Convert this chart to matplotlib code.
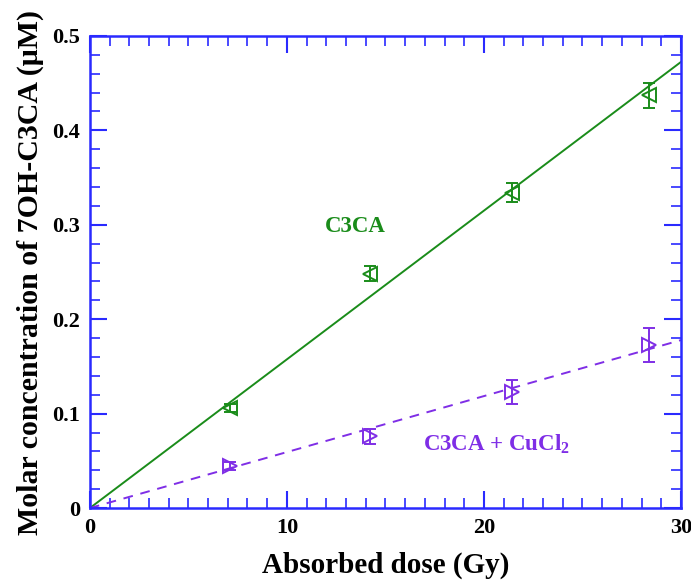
import numpy as np
import matplotlib.pyplot as plt
from matplotlib.ticker import MultipleLocator

plt.rcParams['font.family'] = ['Liberation Serif', 'DejaVu Serif']
plt.rcParams['font.weight'] = 'bold'
plt.rcParams['mathtext.fontset'] = 'custom'
plt.rcParams['mathtext.rm'] = 'Liberation Serif:bold'
plt.rcParams['mathtext.bf'] = 'Liberation Serif:bold'

# dose points (Gy)
dose = [7.1, 14.2, 21.4, 28.4]

# C3CA alone
c3ca = [0.106, 0.248, 0.334, 0.437]
c3ca_err = [0.004, 0.008, 0.010, 0.013]
c3ca_slope = 0.01575

# C3CA + CuCl2
cucl = [0.0445, 0.076, 0.123, 0.173]
cucl_err = [0.004, 0.008, 0.013, 0.018]
cucl_slope = 0.00593

green = '#1a8c1a'
purple = '#7f2ee6'
blue = '#2a2aff'

fig = plt.figure(figsize=(6.91, 5.8), dpi=100)
ax = fig.add_axes([0.130, 0.124, 0.8555, 0.814])

xfit = np.array([0, 30])
ax.plot(xfit, c3ca_slope * xfit, color=green, lw=1.4)
ax.plot(xfit, cucl_slope * xfit, color=purple, lw=1.4, ls=(0, (5, 4)))

ax.errorbar(dose, c3ca, yerr=c3ca_err, fmt='<', mfc='none', mec=green,
            ecolor=green, ms=10, mew=1.4, elinewidth=1.4, capsize=4.5, capthick=1.4)
ax.errorbar(dose, cucl, yerr=cucl_err, fmt='>', mfc='none', mec=purple,
            ecolor=purple, ms=10, mew=1.4, elinewidth=1.4, capsize=4.5, capthick=1.4)

ax.text(13.45, 0.298, 'C3CA', color=green, fontsize=16.5, fontweight='bold',
        ha='center', va='center')
ax.text(20.62, 0.068, 'C3CA + CuCl$_2$', color=purple, fontsize=16.5,
        fontweight='bold', ha='center', va='center')

ax.set_xlim(0, 30)
ax.set_ylim(0, 0.5)
ax.xaxis.set_major_locator(MultipleLocator(10))
ax.xaxis.set_minor_locator(MultipleLocator(1))
ax.yaxis.set_major_locator(MultipleLocator(0.1))
ax.yaxis.set_minor_locator(MultipleLocator(0.02))
ax.set_yticks([0, 0.1, 0.2, 0.3, 0.4, 0.5])
ax.set_yticklabels(['0', '0.1', '0.2', '0.3', '0.4', '0.5'])

ax.tick_params(which='both', direction='in', top=True, right=True,
               color=blue, labelsize=16, pad=7)
ax.tick_params(which='major', length=12, width=1.5)
ax.tick_params(which='minor', length=7, width=1.2)
for s in ax.spines.values():
    s.set_color(blue)
    s.set_linewidth(1.8)

ax.set_xlabel('Absorbed dose (Gy)', fontsize=21, fontweight='bold', labelpad=10)
ax.set_ylabel('Molar concentration of 7OH-C3CA (\u03bcM)', fontsize=21.5,
              fontweight='bold', labelpad=6)

fig.savefig('out.png', dpi=100)
